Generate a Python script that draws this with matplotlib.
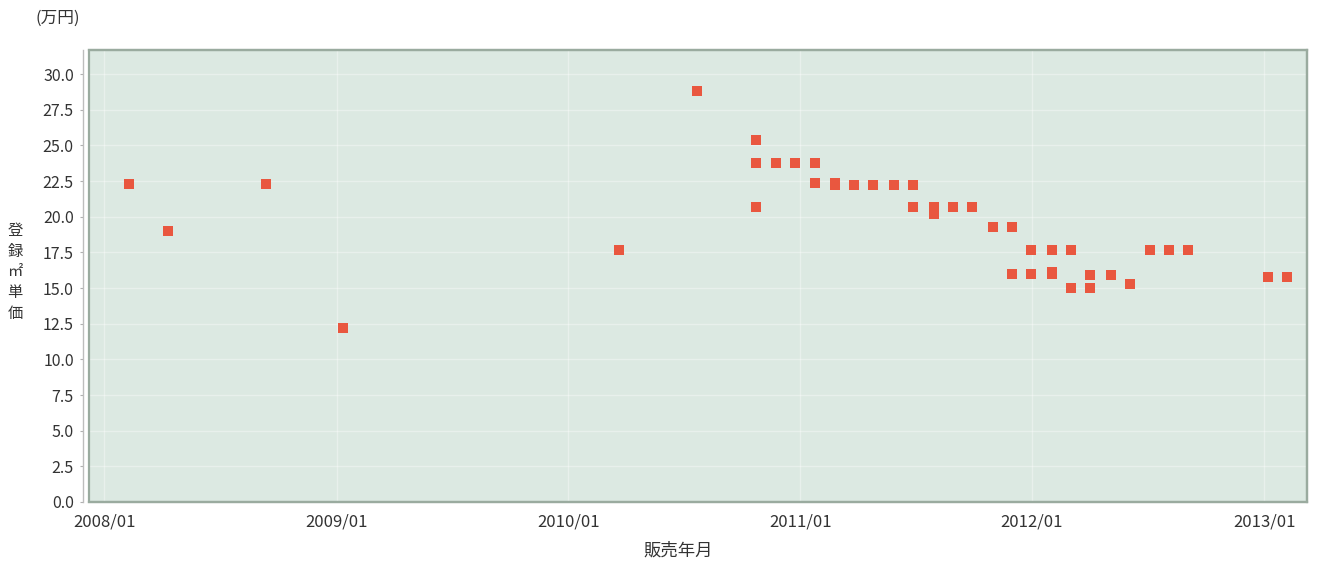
import matplotlib
matplotlib.use("Agg")
import matplotlib.pyplot as plt
import pandas as pd
from matplotlib.patches import Rectangle

plt.rcParams['font.family'] = ['Noto Sans CJK JP', 'DejaVu Sans']

# 販売年月（読み取り値）と登録㎡単価（万円）
sale_dates = ["2008-02-09", "2008-04-11", "2008-09-11", "2009-01-11", "2010-03-22", "2010-07-23",
              "2010-10-24", "2010-10-24", "2010-10-24", "2010-11-24", "2010-12-24", "2011-01-25", "2011-01-25",
              "2011-02-24", "2011-02-24", "2011-03-27", "2011-04-26", "2011-05-29", "2011-06-28", "2011-06-28",
              "2011-07-30", "2011-07-30", "2011-08-30", "2011-09-29", "2011-10-31", "2011-12-01", "2011-12-01",
              "2011-12-31", "2011-12-31", "2012-02-01", "2012-02-01", "2012-02-01", "2012-03-02", "2012-03-02",
              "2012-04-02", "2012-04-02", "2012-05-04", "2012-06-04", "2012-07-04", "2012-08-04", "2012-09-03",
              "2013-01-06", "2013-02-06"]
unit_prices = [22.3, 19.0, 22.3, 12.2, 17.7, 28.8,
               25.4, 23.8, 20.7, 23.8, 23.8, 23.8, 22.4,
               22.2, 22.4, 22.2, 22.2, 22.2, 22.2, 20.7,
               20.7, 20.2, 20.7, 20.7, 19.3, 19.3, 16.0,
               17.7, 16.0, 17.7, 16.0, 16.15, 17.7, 15.0,
               15.9, 15.0, 15.9, 15.3, 17.7, 17.7, 17.7,
               15.8, 15.8]

year_ticks = ["2008-01-01", "2009-01-01", "2010-01-01", "2011-01-01", "2012-01-01", "2013-01-01"]
year_labels = ["2008/01", "2009/01", "2010/01", "2011/01", "2012/01", "2013/01"]
price_ticks = [0, 2.5, 5, 7.5, 10, 12.5, 15, 17.5, 20, 22.5, 25, 27.5, 30]

fig = plt.figure(figsize=(13.21, 5.62), dpi=100)
ax = fig.add_axes([0.0674, 0.1068, 0.922, 0.8043])
ax.set_facecolor('#dce9e2')

x = pd.to_datetime(sale_dates)
ax.scatter(x, unit_prices, marker='s', s=52, color='#e9573f', linewidths=0, zorder=3)

ax.set_xlim(pd.Timestamp("2007-12-08"), pd.Timestamp("2013-03-09"))
ax.set_ylim(0, 31.7)

ax.set_xticks(pd.to_datetime(year_ticks))
ax.set_xticklabels(year_labels)
ax.set_yticks(price_ticks)
ax.set_yticklabels(["%.1f" % v for v in price_ticks])

# 薄いグリッド
ax.grid(True, color='white', alpha=0.35, linewidth=1.0)
ax.set_axisbelow(True)

ax.tick_params(axis='x', length=0, pad=8, labelsize=12, labelcolor='#333333')
ax.tick_params(axis='y', length=2.5, width=0.8, color='#b0b0b0', pad=4, labelsize=11.5, labelcolor='#333333')

for side in ['top', 'right', 'bottom']:
    ax.spines[side].set_color('#9aab9f')
    ax.spines[side].set_linewidth(1.6)
ax.spines['left'].set_position(('outward', 4.5))
ax.spines['left'].set_color('#bdbdbd')
ax.spines['left'].set_linewidth(1.0)

# 枠の左辺
ax.add_patch(Rectangle((0, 0), 1, 1, transform=ax.transAxes, fill=False,
                       edgecolor='#9aab9f', linewidth=1.6, clip_on=False, zorder=4))

fig.text(58 / 1321, 1 - 18 / 562, '(万円)', ha='center', va='center', fontsize=12, color='#333333')
fig.text(15 / 1321, 1 - 272 / 562, '登\n録\n㎡\n単\n価', ha='center', va='center',
         fontsize=11, linespacing=1.3, color='#333333')
fig.text(678 / 1321, 1 - 551 / 562, '販売年月', ha='center', va='center', fontsize=12.5, color='#333333')

fig.savefig('out.png', dpi=100)
